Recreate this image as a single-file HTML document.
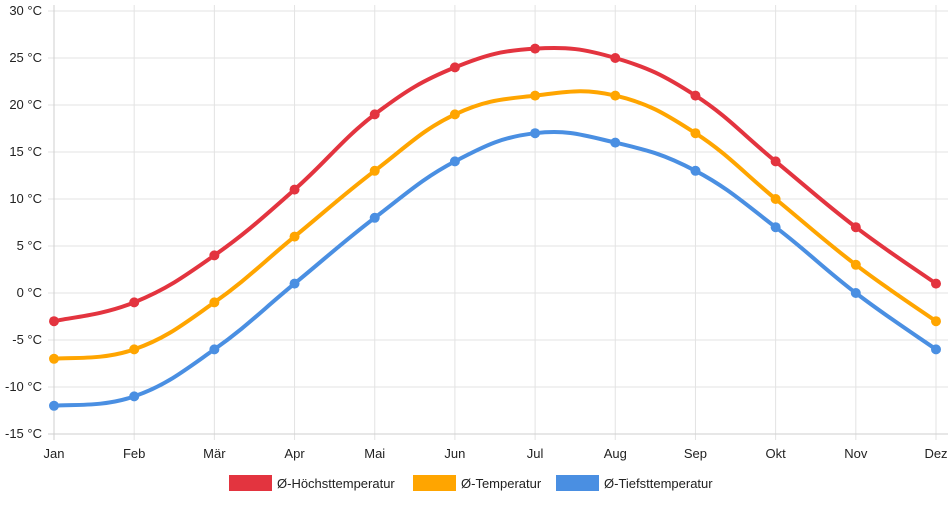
<!DOCTYPE html>
<html><head><meta charset="utf-8"><style>
body{margin:0;background:#fff;font-family:"Liberation Sans",sans-serif}
svg text{font-family:"Liberation Sans",sans-serif;font-size:13px;fill:#222}
</style></head><body>
<svg id="c" width="952" height="500"></svg>
<script>
const months=["Jan","Feb","Mär","Apr","Mai","Jun","Jul","Aug","Sep","Okt","Nov","Dez"];
const maxTemp=[-3,-1,4,11,19,24,26,25,21,14,7,1];
const avgTemp=[-7,-6,-1,6,13,19,21,21,17,10,3,-3];
const minTemp=[-12,-11,-6,1,8,14,17,16,13,7,0,-6];
const yTicks=[30,25,20,15,10,5,0,-5,-10,-15];
const seriesNames=["Ø-Höchsttemperatur","Ø-Temperatur","Ø-Tiefsttemperatur"];
const colors=["#e3343f","#ffa500","#4a8fe2"];
const NS="http://www.w3.org/2000/svg";
const svg=document.getElementById('c');
const X0=54,X1=936,Y0=11,Y1=434;
const x=i=>X0+i*(X1-X0)/(months.length-1);
const y=v=>Y0+(30-v)*(Y1-Y0)/45;
function el(t,a,p){const e=document.createElementNS(NS,t);for(const k in a)e.setAttribute(k,a[k]);(p||svg).appendChild(e);return e;}
const grid=el('g',{});


yTicks.forEach(v=>{
  el('line',{x1:X0-6,x2:X1+12,y1:y(v),y2:y(v),stroke:'#e3e3e3'},grid);
  const t=el('text',{x:42,y:y(v)+4,'text-anchor':'end'});
  
  
  t.textContent=v+" °C";
});
months.forEach((m,i)=>{
  el('line',{x1:x(i),x2:x(i),y1:Y0-6,y2:Y1+6,stroke:'#e3e3e3'},grid);
  const t=el('text',{x:x(i),y:458,'text-anchor':'middle'});
  
  
  t.textContent=m;
});
el('line',{x1:X0,x2:X0,y1:Y0-6,y2:Y1+6,stroke:'#cfcfcf'});
el('line',{x1:X0-6,x2:X1+12,y1:Y1,y2:Y1,stroke:'#cfcfcf'});
function path(vals){
  const p=vals.map((v,i)=>[x(i),y(v)]);const t=0.4;let d="M"+p[0];
  for(let i=0;i<p.length-1;i++){
    const p0=p[Math.max(i-1,0)],p1=p[i],p2=p[i+1],p3=p[Math.min(i+2,p.length-1)];
    const c1=[p1[0]+(p2[0]-p0[0])*t/2,p1[1]+(p2[1]-p0[1])*t/2];
    const c2=[p2[0]-(p3[0]-p1[0])*t/2,p2[1]-(p3[1]-p1[1])*t/2];
    d+=" C"+c1+" "+c2+" "+p2;
  }
  return d;
}
[maxTemp,avgTemp,minTemp].forEach((vals,s)=>{
  const g=el('g',{});
  
  
  const l=el('path',{d:path(vals),fill:'none',stroke:colors[s],'stroke-width':4},g);
  
  
  vals.forEach((v,i)=>{
    const c=el('circle',{cx:x(i),cy:y(v),r:5,fill:colors[s]},g);
    
    
  });
});
const lx=[229,413,556];
seriesNames.forEach((n,s)=>{
  const g=el('g',{});
  
  
  el('rect',{x:lx[s],y:475,width:43,height:16,fill:colors[s]},g);
  const t=el('text',{x:lx[s]+48,y:488},g);
  t.textContent=n;
});
</script>
</body></html>
